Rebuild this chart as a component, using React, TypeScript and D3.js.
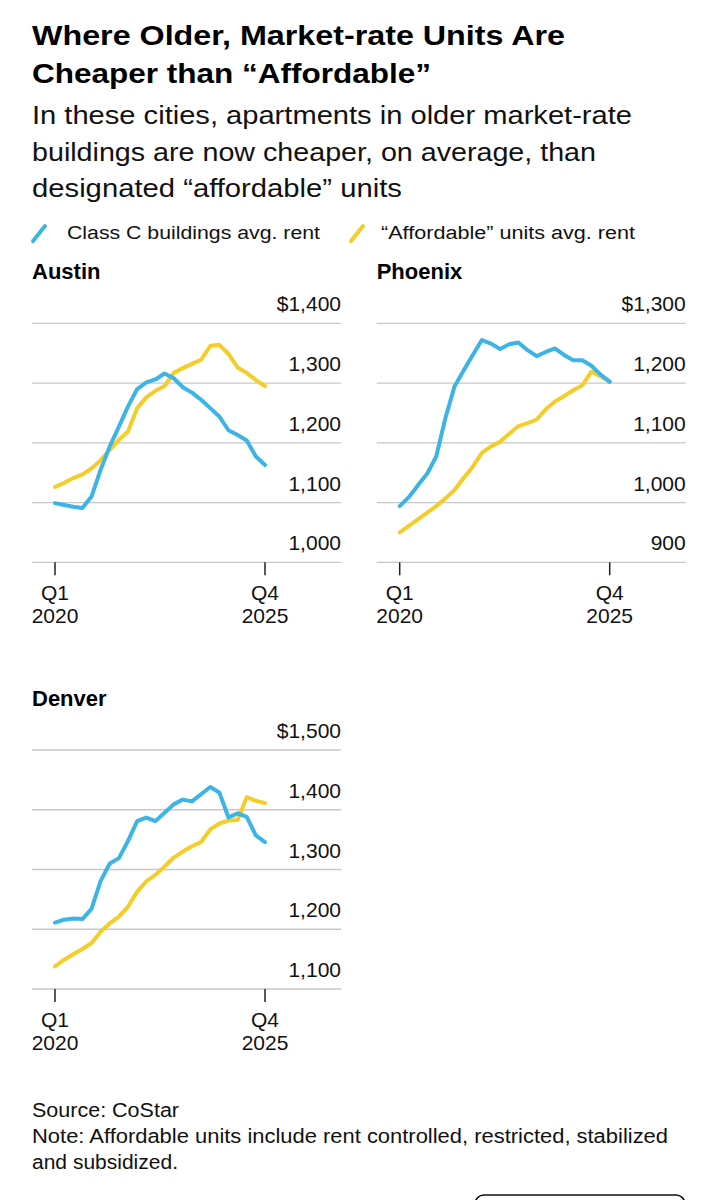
import React from 'react';
import * as d3 from 'd3';

// Quarterly average rents, Q1 2020 .. Q4 2025
const quarters = d3.range(24);

const austinClassC = [1099, 1096, 1093, 1091, 1110, 1155, 1194, 1227, 1261, 1290, 1301, 1306, 1316, 1308, 1293, 1284, 1272, 1258, 1244, 1221, 1213, 1204, 1177, 1163];
const austinAffordable = [1126, 1133, 1141, 1147, 1157, 1171, 1188, 1205, 1219, 1258, 1276, 1287, 1295, 1317, 1325, 1332, 1339, 1362, 1364, 1349, 1326, 1317, 1305, 1295];

const phoenixClassC = [994, 1009, 1029, 1048, 1077, 1141, 1194, 1221, 1247, 1272, 1266, 1257, 1265, 1268, 1255, 1245, 1252, 1258, 1247, 1238, 1238, 1229, 1214, 1202];
const phoenixAffordable = [950, 961, 972, 983, 994, 1007, 1021, 1041, 1060, 1083, 1094, 1102, 1115, 1128, 1133, 1139, 1156, 1169, 1178, 1188, 1196, 1219, 1211, 1203];

const denverClassC = [1211, 1216, 1218, 1217, 1234, 1281, 1310, 1319, 1348, 1381, 1387, 1381, 1395, 1409, 1417, 1414, 1426, 1438, 1429, 1387, 1394, 1388, 1357, 1346];
const denverAffordable = [1138, 1149, 1158, 1167, 1177, 1196, 1210, 1221, 1238, 1263, 1280, 1291, 1305, 1320, 1330, 1339, 1346, 1367, 1377, 1382, 1383, 1421, 1415, 1411];

const austinTicks = [1000, 1100, 1200, 1300, 1400];
const phoenixTicks = [900, 1000, 1100, 1200, 1300];
const denverTicks = [1100, 1200, 1300, 1400, 1500];

const legendLabels = ['Class C buildings avg. rent', '\u201CAffordable\u201D units avg. rent'];

const BLUE = '#3cb4e5';
const YELLOW = '#f5cd2a';
const FONT = '"Liberation Sans", Arial, Helvetica, sans-serif';

const fmt = d3.format(',');

interface PanelProps {
  name: string;
  x0: number;
  top: number;
  ticks: number[];
  classC: number[];
  affordable: number[];
}

const Panel: React.FC<PanelProps> = ({ name, x0, top, ticks, classC, affordable }) => {
  const gridW = 309;
  const step = 59.75;
  const bottom = top + step * (ticks.length - 1);

  const x = d3.scaleLinear().domain([0, 23]).range([x0 + 23, x0 + 233]);
  const y = d3.scaleLinear().domain([ticks[0], ticks[ticks.length - 1]]).range([bottom, top]);

  const line = d3.line<number>()
    .x((_, i) => x(quarters[i]))
    .y(d => y(d));

  return (
    <g>
      <text x={x0} y={top - 44} fontSize={22} fontWeight="bold" fill="#000">{name}</text>
      {ticks.map((t, i) => (
        <g key={t}>
          <line x1={x0} x2={x0 + gridW} y1={y(t)} y2={y(t)} stroke="#c8c8c8" strokeWidth={1.3} />
          <text x={x0 + gridW} y={y(t) - 12} textAnchor="end" fontSize={21} fill="#111">
            {(i === ticks.length - 1 ? '$' : '') + fmt(t)}
          </text>
        </g>
      ))}
      {[0, 23].map((q, i) => (
        <g key={q}>
          <line x1={x(q)} x2={x(q)} y1={bottom} y2={bottom + 13} stroke="#222" strokeWidth={1.5} />
          <text x={x(q)} y={bottom + 38} textAnchor="middle" fontSize={21} fill="#111">{i === 0 ? 'Q1' : 'Q4'}</text>
          <text x={x(q)} y={bottom + 61} textAnchor="middle" fontSize={21} fill="#111">{i === 0 ? '2020' : '2025'}</text>
        </g>
      ))}
      <path d={line(affordable) || ''} fill="none" stroke={YELLOW} strokeWidth={4} strokeLinejoin="round" strokeLinecap="round" />
      <path d={line(classC) || ''} fill="none" stroke={BLUE} strokeWidth={4} strokeLinejoin="round" strokeLinecap="round" />
    </g>
  );
};

export default function App() {
  return (
    <>
      <style>{`body{margin:0;background:#fff}`}</style>
      <svg width={717} height={1200} style={{ display: 'block', fontFamily: FONT }}>
        <rect width={717} height={1200} fill="#fff" />
        {/* title */}
        <text x={32} y={45} fontSize={28} fontWeight="bold" textLength={533} lengthAdjust="spacingAndGlyphs">Where Older, Market-rate Units Are</text>
        <text x={32} y={83} fontSize={28} fontWeight="bold" textLength={399} lengthAdjust="spacingAndGlyphs">Cheaper than {'\u201CAffordable\u201D'}</text>
        {/* subtitle */}
        <text x={32} y={124} fontSize={25} fill="#111" textLength={600} lengthAdjust="spacingAndGlyphs">In these cities, apartments in older market-rate</text>
        <text x={32} y={161} fontSize={25} fill="#111" textLength={564} lengthAdjust="spacingAndGlyphs">buildings are now cheaper, on average, than</text>
        <text x={32} y={197} fontSize={25} fill="#111" textLength={370} lengthAdjust="spacingAndGlyphs">designated {'\u201Caffordable\u201D'} units</text>
        {/* legend */}
        <line x1={33} y1={241} x2={45} y2={226} stroke={BLUE} strokeWidth={4} strokeLinecap="round" />
        <text x={67} y={239} fontSize={18} fill="#111" textLength={253} lengthAdjust="spacingAndGlyphs">{legendLabels[0]}</text>
        <line x1={351} y1={241} x2={363} y2={226} stroke={YELLOW} strokeWidth={4} strokeLinecap="round" />
        <text x={381} y={239} fontSize={18} fill="#111" textLength={254} lengthAdjust="spacingAndGlyphs">{legendLabels[1]}</text>

        <Panel name="Austin" x0={32} top={323.3} ticks={austinTicks} classC={austinClassC} affordable={austinAffordable} />
        <Panel name="Phoenix" x0={376.7} top={323.3} ticks={phoenixTicks} classC={phoenixClassC} affordable={phoenixAffordable} />
        <Panel name="Denver" x0={32} top={750} ticks={denverTicks} classC={denverClassC} affordable={denverAffordable} />

        {/* footer */}
        <text x={32} y={1117} fontSize={19.5} fill="#111" textLength={147} lengthAdjust="spacingAndGlyphs">Source: CoStar</text>
        <text x={32} y={1143} fontSize={19.5} fill="#111" textLength={636} lengthAdjust="spacingAndGlyphs">Note: Affordable units include rent controlled, restricted, stabilized</text>
        <text x={32} y={1169} fontSize={19.5} fill="#111" textLength={146} lengthAdjust="spacingAndGlyphs">and subsidized.</text>
        <rect x={475} y={1195} width={210} height={30} rx={9} fill="none" stroke="#111" strokeWidth={1.5} />
      </svg>
    </>
  );
}
